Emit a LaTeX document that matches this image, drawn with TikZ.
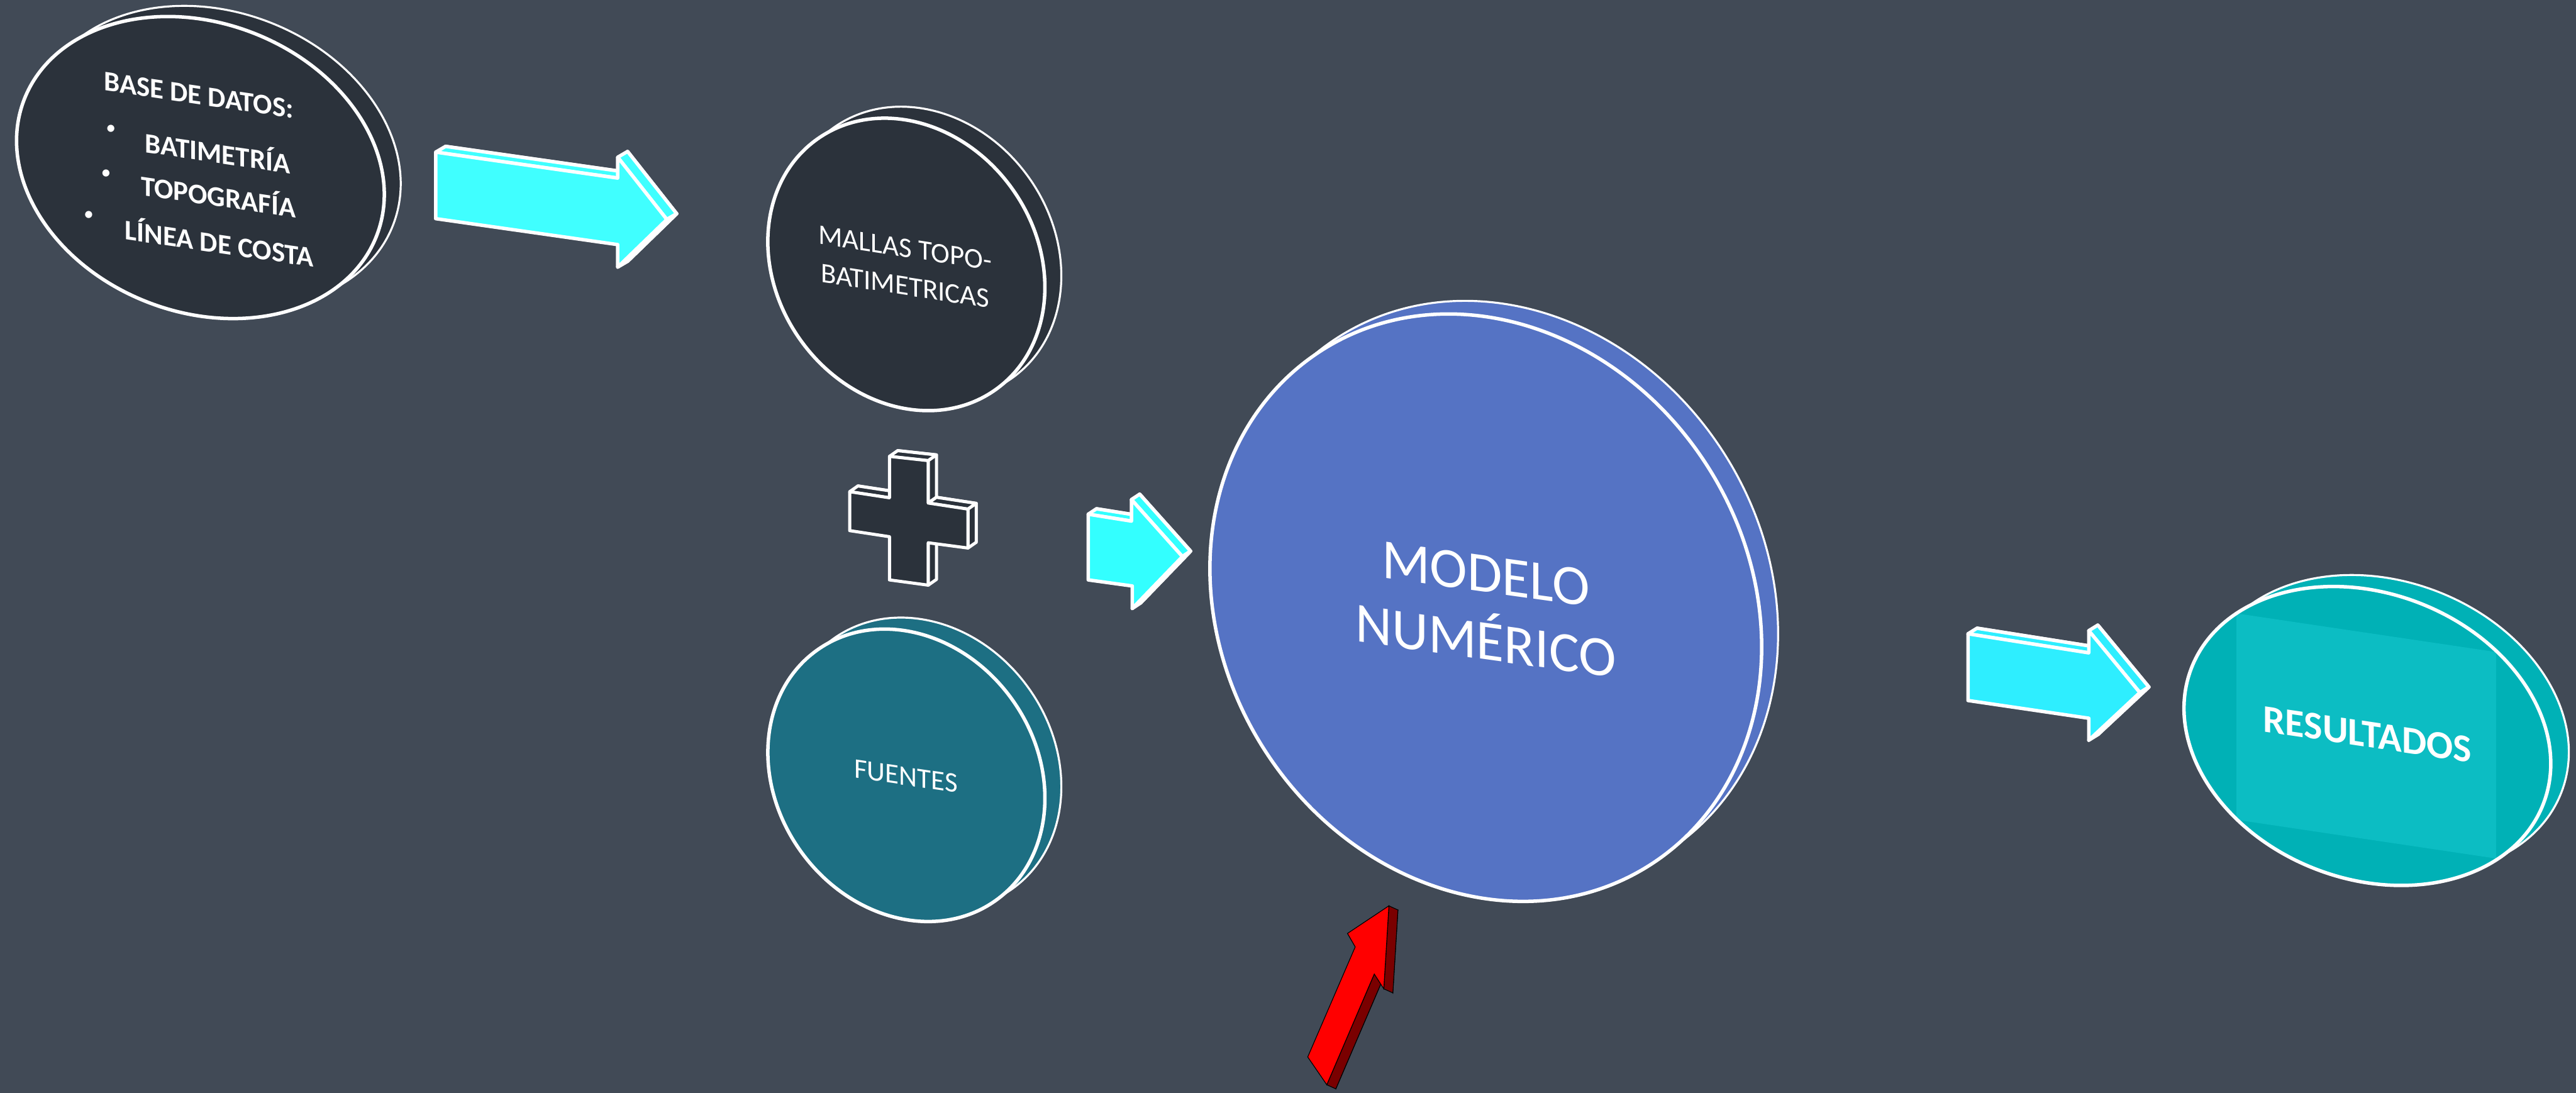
\documentclass[tikz,border=0pt]{standalone}
\usepackage{fontspec}
\setmainfont{Carlito}
\usetikzlibrary{calc}

\definecolor{bgslate}{HTML}{414A56}
\definecolor{diskdark}{HTML}{2B323B}
\definecolor{diskteal}{HTML}{1D6F83}
\definecolor{diskblue}{HTML}{5573C4}
\definecolor{resA}{HTML}{00B1B6}
\definecolor{resB}{HTML}{0CBDC3}
\definecolor{cyanA}{HTML}{40FFFF}
\definecolor{cyanB}{HTML}{33FFFF}
\definecolor{cyanC}{HTML}{2EEEFF}
\definecolor{redfront}{HTML}{FF0000}
\definecolor{redside}{HTML}{7A0000}

% Extruded flat shape: #1 prefix of vertices #1-1..#1-#2 (clockwise),
% #3 extrusion vector, #4 edges whose side face is visible,
% #5 style of back and side faces, #6 style of the front face.
\newcommand\slab[6]{%
  \draw[#5] ($(#1-1)+#3$) \foreach \i in {2,...,#2}{ -- ($(#1-\i)+#3$) } -- cycle;
  \foreach \i in {#4}{%
    \pgfmathtruncatemacro\nxt{mod(\i,#2)+1}%
    \draw[#5] (#1-\i) -- (#1-\nxt) -- ($(#1-\nxt)+#3$) -- ($(#1-\i)+#3$) -- cycle;
  }%
  \draw[#6] (#1-1) \foreach \i in {2,...,#2}{ -- (#1-\i) } -- cycle;
}

% Tilted disk with a thin back rim: #1 name, #2 centre, #3/#4 radii,
% #5 tilt, #6 rim offset, #7 fill colour.
\newcommand\tiltdisk[7]{%
  \coordinate (#1) at #2;
  \coordinate (#1-back) at ($(#1)+#6$);
  \draw[diskback, fill=#7, rotate around={#5:(#1-back)}] (#1-back) ellipse [x radius=#3, y radius=#4];
  \draw[diskfront, fill=#7, rotate around={#5:(#1)}] (#1) ellipse [x radius=#3, y radius=#4];
}

\tikzset{
  diskfront/.style={draw=white, line width=1.9pt},
  diskback/.style={draw=white, line width=1.1pt},
  cyanface/.style={fill=#1, draw=white, line width=1.9pt, line join=round},
  plusface/.style={fill=diskdark, draw=white, line width=1.7pt, line join=round},
  label/.style={text=white, inner sep=0pt, align=center},
}

\begin{document}
\begin{tikzpicture}[x=0.0316773cm, y=-0.0316773cm]
\fill[bgslate] (0,0) rectangle (1568,665.15);
\useasboundingbox (0,0) rectangle (1568,665.15);

% ---------- data base disk ----------
\tiltdisk{base}{(122,102)}{115}{88}{-21}{(10,-6.5)}{diskdark}
\begin{scope}[every node/.style={label, yslant=-0.147, font=\bfseries\fontsize{15.5}{18}\selectfont}]
  \node (baseT) at (121,58) {BASE DE DATOS:};
  \node (baseA) at (132.5,92) {BATIMETRÍA};
  \node (baseB) at (133,118.5) {TOPOGRAFÍA};
  \node (baseC) at (133.5,147) {LÍNEA DE COSTA};
\end{scope}
\begin{scope}[every node/.style={label, font=\fontsize{11}{12}\selectfont}]
  \node (bulA) at (67.5,79) {•};
  \node (bulB) at (64.5,106) {•};
  \node (bulC) at (54,131.5) {•};
\end{scope}

% ---------- arrow: data base -> grids ----------
\coordinate (a-1) at (265.2,92.6);
\coordinate (a-2) at (376,108.4);
\coordinate (a-3) at (376,95.7);
\coordinate (a-4) at (405.9,133.6);
\coordinate (a-5) at (376,162.6);
\coordinate (a-6) at (376,148.9);
\coordinate (a-7) at (265.2,133.1);
\slab{a}{7}{(6,-3.5)}{1,3,4}{cyanface=cyanA}{cyanface=cyanA}

% ---------- grids disk ----------
\tiltdisk{mallas}{(551.7,161)}{93.6}{79.2}{-54.5}{(10,-7)}{diskdark}
\node[label, yslant=-0.155, font=\fontsize{15.5}{20.9}\selectfont] (mallasT) at (551,162.5)
  {MALLAS TOPO-\\BATIMETRICAS};

% ---------- plus sign ----------
\coordinate (p-1) at (541.4,277.8);
\coordinate (p-2) at (565.0,280.4);
\coordinate (p-3) at (565.0,306.2);
\coordinate (p-4) at (589.2,309.9);
\coordinate (p-5) at (589.2,333.6);
\coordinate (p-6) at (565.0,330.4);
\coordinate (p-7) at (565.0,356.2);
\coordinate (p-8) at (541.4,353.0);
\coordinate (p-9) at (541.4,326.7);
\coordinate (p-10) at (517.2,323.0);
\coordinate (p-11) at (517.2,299.3);
\coordinate (p-12) at (541.4,303.0);
\slab{p}{12}{(5,-3.5)}{1,2,3,4,6,11}{plusface}{plusface}

% ---------- sources disk ----------
\tiltdisk{fuentes}{(551.7,472)}{93.6}{79.2}{-54.5}{(10,-7)}{diskteal}
\node[label, yslant=-0.15, font=\fontsize{15.5}{19}\selectfont] (fuentesT) at (551.4,472.5) {FUENTES};

% ---------- arrow: inputs -> model ----------
\coordinate (b-1) at (662.4,313.0);
\coordinate (b-2) at (688.7,317.2);
\coordinate (b-3) at (688.7,304.1);
\coordinate (b-4) at (719.7,338.8);
\coordinate (b-5) at (689.2,370.4);
\coordinate (b-6) at (689.2,356.7);
\coordinate (b-7) at (662.4,353.0);
\slab{b}{7}{(5,-3.3)}{1,3,4}{cyanface=cyanB}{cyanface=cyanB}

% ---------- numerical model disk ----------
\tiltdisk{modelo}{(904.4,370)}{185.8}{160.1}{-57.5}{(10,-8)}{diskblue}
\node[label, yslant=-0.14, font=\fontsize{31}{37}\selectfont] (modeloT) at (904.4,370)
  {MODELO\\NUMÉRICO};

% ---------- red arrow into the model ----------
\coordinate (r-1) at (796.0,643.4);
\coordinate (r-2) at (824.9,576.4);
\coordinate (r-3) at (820.2,568.2);
\coordinate (r-4) at (845.4,551.4);
\coordinate (r-5) at (842.3,601.9);
\coordinate (r-6) at (836.5,592.9);
\coordinate (r-7) at (807.6,660.3);
\slab{r}{7}{(5.5,2.5)}{4,6}{fill=redside}{fill=redfront}

% ---------- arrow: model -> results ----------
\coordinate (c-1) at (1197.9,385.8);
\coordinate (c-2) at (1271.4,397.4);
\coordinate (c-3) at (1271.4,383.9);
\coordinate (c-4) at (1302.5,421.6);
\coordinate (c-5) at (1271.4,450.6);
\coordinate (c-6) at (1271.4,437.2);
\coordinate (c-7) at (1197.9,426.4);
\slab{c}{7}{(5.5,-3.4)}{1,3,4}{cyanface=cyanC}{cyanface=cyanC}

% ---------- results disk ----------
\coordinate (res) at (1441,448);
\coordinate (res-back) at ($(res)+(11,-7)$);
\draw[diskback, fill=resA, rotate around={-21:(res-back)}] (res-back) ellipse [x radius=114.8, y radius=86.9];
\fill[resA, rotate around={-21:(res)}] (res) ellipse [x radius=114.8, y radius=86.9];
\begin{scope}
  \clip[rotate around={-21:(res)}] (res) ellipse [x radius=114.8, y radius=86.9];
  \coordinate (q-1) at (1361.3,373.4);
  \coordinate (q-2) at (1519.4,396.9);
  \coordinate (q-3) at (1519.4,522.6);
  \coordinate (q-4) at (1361.3,499.0);
  \fill[resB] (q-1) -- (q-2) -- (q-3) -- (q-4) -- cycle;
\end{scope}
\draw[diskfront, rotate around={-21:(res)}] (res) ellipse [x radius=114.8, y radius=86.9];
\node[label, yslant=-0.15, font=\bfseries\fontsize{21.5}{26}\selectfont] (resT) at (1441,447) {RESULTADOS};

\end{tikzpicture}
\end{document}
